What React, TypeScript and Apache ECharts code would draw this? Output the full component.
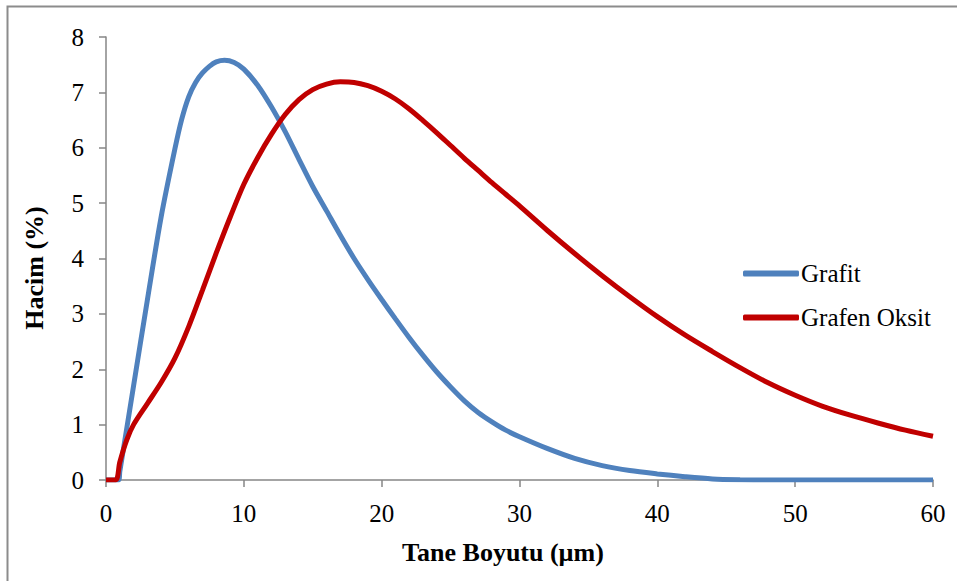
import React, { useEffect, useRef } from "react";
import * as echarts from "echarts";

const grafitX = [0, 0.9, 1, 2, 3, 4, 5, 5.5, 6, 6.5, 7, 7.5, 8, 8.6, 9.3, 10, 11, 12, 13, 14, 15, 16, 17, 18, 19, 20, 21, 22, 23, 24, 25, 26, 27, 28, 29, 30, 32, 34, 36, 38, 40, 42, 44, 46, 48, 50, 52, 54, 56, 58, 60];
const grafitY = [0, 0, 0.15, 1.7, 3.25, 4.75, 5.98, 6.52, 6.92, 7.18, 7.35, 7.47, 7.55, 7.58, 7.54, 7.42, 7.13, 6.74, 6.29, 5.79, 5.3, 4.86, 4.42, 4.0, 3.62, 3.26, 2.91, 2.57, 2.25, 1.95, 1.68, 1.43, 1.22, 1.05, 0.9, 0.78, 0.57, 0.39, 0.26, 0.17, 0.11, 0.06, 0.02, 0.005, 0, 0, 0, 0, 0, 0, 0];

const oksitX = [0, 0.7, 1, 1.5, 2, 3, 4, 5, 6, 7, 8, 9, 10, 11, 12, 13, 14, 15, 16, 17, 18, 19, 20, 21, 22, 23, 24, 25, 26, 27, 28, 29, 30, 32, 34, 36, 38, 40, 42, 44, 46, 48, 50, 52, 54, 56, 58, 60];
const oksitY = [0, 0, 0.32, 0.72, 1.0, 1.38, 1.76, 2.2, 2.77, 3.43, 4.1, 4.74, 5.34, 5.82, 6.24, 6.6, 6.87, 7.05, 7.15, 7.19, 7.18, 7.12, 7.02, 6.88, 6.7, 6.49, 6.27, 6.04, 5.81, 5.59, 5.37, 5.16, 4.95, 4.51, 4.09, 3.69, 3.31, 2.95, 2.62, 2.32, 2.03, 1.76, 1.53, 1.33, 1.17, 1.03, 0.9, 0.79];

const seriesNames = ["Grafit", "Grafen Oksit"];
const xTicks = { min: 0, max: 60, interval: 10 };
const yTicks = { min: 0, max: 8, interval: 1 };

const FONT = '"Liberation Serif", "Times New Roman", serif';

export default function App() {
  const ref = useRef<HTMLDivElement>(null);
  useEffect(() => {
    if (!ref.current) return;
    const chart = echarts.init(ref.current, null, { renderer: "svg" });
    const axisColor = "#868686";
    chart.setOption({
      animation: false,
      backgroundColor: "#ffffff",
      grid: { left: 106, right: 24, top: 37, bottom: 101 },
      xAxis: {
        type: "value",
        min: xTicks.min,
        max: xTicks.max,
        interval: xTicks.interval,
        axisLine: { show: true, onZero: false, lineStyle: { color: axisColor, width: 1.5 } },
        axisTick: { show: true, length: 7, lineStyle: { color: axisColor, width: 1.5 } },
        splitLine: { show: false },
        axisLabel: { color: "#000", fontFamily: FONT, fontSize: 25, margin: 21 },
      },
      yAxis: {
        type: "value",
        min: yTicks.min,
        max: yTicks.max,
        interval: yTicks.interval,
        axisLine: { show: true, lineStyle: { color: axisColor, width: 1.5 } },
        axisTick: { show: true, length: 7, lineStyle: { color: axisColor, width: 1.5 } },
        splitLine: { show: false },
        axisLabel: { color: "#000", fontFamily: FONT, fontSize: 25, margin: 22 },
      },
      legend: {
        orient: "vertical",
        left: 743,
        top: 261,
        padding: 0,
        itemWidth: 56,
        itemHeight: 6,
        itemGap: 19,
        icon: "roundRect",
        textStyle: { color: "#000", fontFamily: FONT, fontSize: 25, padding: [0, 0, 0, -3] },
        data: seriesNames,
      },
      series: [
        {
          name: seriesNames[0],
          type: "line",
          data: grafitX.map((x, i) => [x, grafitY[i]]),
          smooth: 0.3,
          showSymbol: false,
          symbol: "none",
          lineStyle: { color: "#4F81BD", width: 5 },
          itemStyle: { color: "#4F81BD" },
          z: 2,
        },
        {
          name: seriesNames[1],
          type: "line",
          data: oksitX.map((x, i) => [x, oksitY[i]]),
          smooth: 0.3,
          showSymbol: false,
          symbol: "none",
          lineStyle: { color: "#C00000", width: 5 },
          itemStyle: { color: "#C00000" },
          z: 3,
        },
      ],
      graphic: [
        {
          type: "rect",
          shape: { x: 7.5, y: 6.5, width: 1000, height: 1000 },
          style: { fill: "none", stroke: "#8c8c8c", lineWidth: 2 },
          silent: true,
        },
        {
          type: "text",
          x: 503,
          y: 552,
          style: {
            text: "Tane Boyutu (µm)",
            font: `bold 26px ${FONT}`,
            fill: "#000",
            textAlign: "center",
            textVerticalAlign: "middle",
          },
        },
        {
          type: "text",
          x: 34,
          y: 268,
          rotation: Math.PI / 2,
          style: {
            text: "Hacim (%)",
            font: `bold 26px ${FONT}`,
            fill: "#000",
            textAlign: "center",
            textVerticalAlign: "middle",
          },
        },
      ],
    });
    return () => chart.dispose();
  }, []);
  return <div ref={ref} style={{ width: 957, height: 581, position: "absolute", left: 0, top: 0 }} />;
}
